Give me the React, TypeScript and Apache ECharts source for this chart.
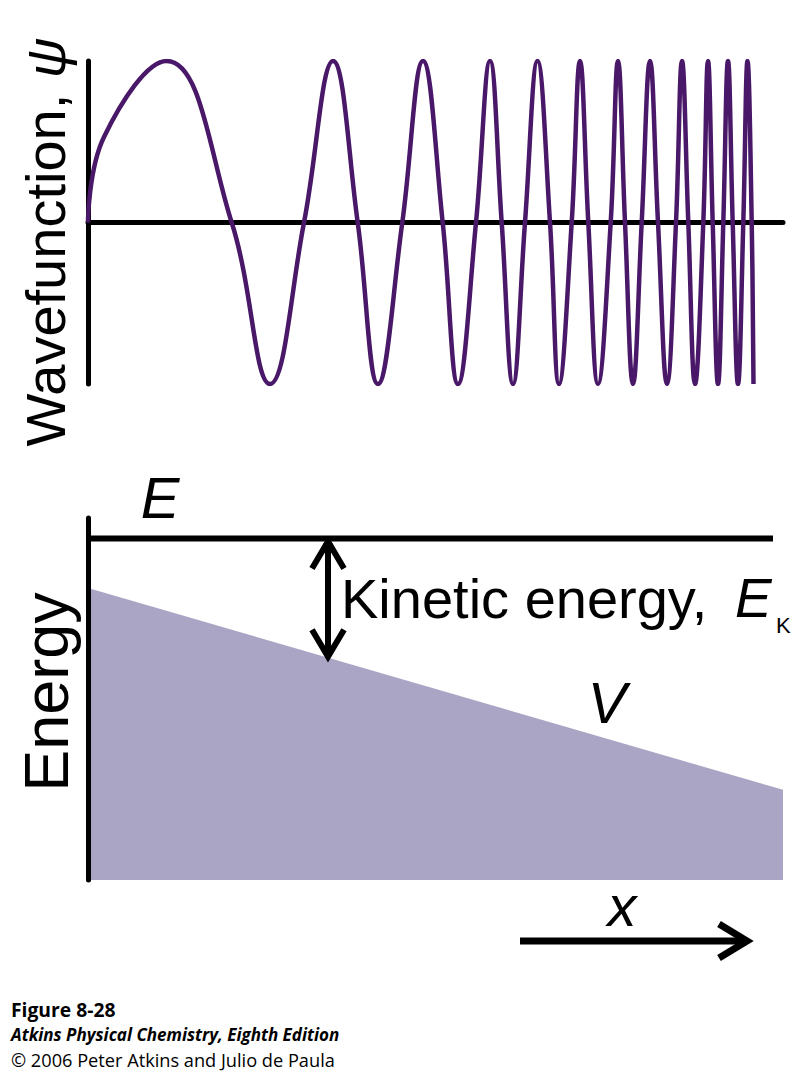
import React, { useEffect, useRef } from 'react';
import * as echarts from 'echarts';

// Wavefunction ψ(x): zero crossings and extrema (x in px from the axis)
const waveX = [
  0, 16, 78.7, 143.7, 182, 216, 245, 269.7, 290, 314.3, 335, 354.7, 370,
  388, 402, 413.7, 425, 437, 449.5, 462, 471, 483.7, 492, 500.3, 510, 522.7,
  530, 537, 545, 553.7, 562, 570, 579, 588, 594, 600.3, 607, 615.3, 620, 624.7,
  630, 635.3, 640, 644.7, 650, 655.3, 659.5, 663.7, 665.5,
];
const waveY = [
  0, 0.53, 1, 0, -1, 0, 1, 0, -1, 0, 1, 0, -1,
  0, 1, 0, -1, 0, 1, 0, -1, 0, 1, 0, -1, 0,
  1, 0, -1, 0, 1, 0, -1, 0, 1, 0, -1, 0, 1, 0,
  -1, 0, 1, 0, -1, 0, 1, 0, -1,
];

// Energy panel
const energyE = 100;
const eLineX = [0, 685];
const potentialX = [0, 695];
const potentialV = [85.5, 26.4];
const arrowX = 240;

const FONT = "'Liberation Sans', Arial, Helvetica, sans-serif";
const FOOT = "'Open Sans', 'Noto Sans', sans-serif";

export default function App() {
  const ref = useRef<HTMLDivElement>(null);

  useEffect(() => {
    document.body.style.margin = '0';
    document.body.style.overflow = 'hidden';
    const chart = echarts.init(ref.current!, null, { renderer: 'svg' });

    const wave = waveX.map((x, i) => [x, waveY[i]]);
    const eLine = eLineX.map((x) => [x, energyE]);
    const pot = potentialX.map((x, i) => [x, potentialV[i]]);

    chart.setOption({
      animation: false,
      grid: [
        { left: 88, top: 61, width: 695, height: 323 },
        { left: 88, top: 518, width: 695, height: 362 },
      ],
      xAxis: [
        {
          type: 'value', gridIndex: 0, min: 0, max: 695,
          axisLine: { show: true, onZero: true, lineStyle: { color: '#000', width: 5 } },
          axisTick: { show: false }, axisLabel: { show: false }, splitLine: { show: false },
        },
        { type: 'value', gridIndex: 1, min: 0, max: 695, show: false },
      ],
      yAxis: [
        {
          type: 'value', gridIndex: 0, min: -1, max: 1,
          axisLine: { show: true, onZero: false, lineStyle: { color: '#000', width: 5 } },
          axisTick: { show: false }, axisLabel: { show: false }, splitLine: { show: false },
        },
        {
          type: 'value', gridIndex: 1, min: 0, max: 106, z: 5,
          axisLine: { show: true, onZero: false, lineStyle: { color: '#000', width: 5 } },
          axisTick: { show: false }, axisLabel: { show: false }, splitLine: { show: false },
        },
      ],
      series: [
        {
          type: 'line', xAxisIndex: 0, yAxisIndex: 0, data: wave, smooth: 0.42,
          symbol: 'none', lineStyle: { color: '#4a1868', width: 4.5 }, z: 3,
        },
        {
          type: 'line', xAxisIndex: 1, yAxisIndex: 1, data: pot,
          symbol: 'none', lineStyle: { width: 0 },
          areaStyle: { color: '#aaa5c4', opacity: 1 }, z: 1,
        },
        {
          type: 'line', xAxisIndex: 1, yAxisIndex: 1, data: eLine,
          symbol: 'none', lineStyle: { color: '#000', width: 6, cap: 'butt' }, z: 4,
        },
      ],
    });

    const vAt = potentialV[0] + (potentialV[1] - potentialV[0]) * (arrowX - potentialX[0]) / (potentialX[1] - potentialX[0]);
    const pTop = chart.convertToPixel({ gridIndex: 1 }, [arrowX, energyE]) as number[];
    const pBot = chart.convertToPixel({ gridIndex: 1 }, [arrowX, vAt]) as number[];
    const ax = pTop[0];
    const y1 = pTop[1] + 3;
    const y2 = pBot[1] - 1;
    const blk = { stroke: '#000', lineWidth: 6, fill: null, lineJoin: 'miter' };

    chart.setOption({
      graphic: [
        // double arrow (kinetic energy)
        { type: 'line', shape: { x1: ax, y1: y1 + 3, x2: ax, y2: y2 - 3 }, style: blk, z: 10 },
        { type: 'polyline', shape: { points: [[ax - 16, y1 + 27], [ax, y1], [ax + 16, y1 + 27]] }, style: blk, z: 10 },
        { type: 'polyline', shape: { points: [[ax - 16, y2 - 27], [ax, y2], [ax + 16, y2 - 27]] }, style: blk, z: 10 },
        // x arrow
        { type: 'line', shape: { x1: 520, y1: 941, x2: 744, y2: 941 }, style: { ...blk, lineWidth: 7 }, z: 10 },
        { type: 'polyline', shape: { points: [[719, 924], [747, 941], [719, 958]] }, style: { ...blk, lineWidth: 7 }, z: 10 },
        // labels
        {
          type: 'text', x: 45, y: 242, rotation: Math.PI / 2, z: 10,
          style: {
            text: '{a|Wavefunction, }{b|ψ}',
            rich: {
              a: { fontSize: 56, fontFamily: FONT, fill: '#000' },
              b: { fontSize: 56, fontFamily: FONT, fontStyle: 'italic', fill: '#000' },
            },
            align: 'center', verticalAlign: 'middle',
          },
        },
        {
          type: 'text', x: 46, y: 692, rotation: Math.PI / 2, z: 10,
          style: { text: 'Energy', fontSize: 63, fontFamily: FONT, fill: '#000', align: 'center', verticalAlign: 'middle' },
        },
        {
          type: 'text', x: 160, y: 497, z: 10,
          style: { text: 'E', fontSize: 58, fontStyle: 'italic', fontFamily: FONT, fill: '#000', align: 'center', verticalAlign: 'middle' },
        },
        {
          type: 'text', x: 341, y: 598, z: 10,
          style: { text: 'Kinetic energy,', fontSize: 56, fontFamily: FONT, fill: '#000', align: 'left', verticalAlign: 'middle' },
        },
        {
          type: 'text', x: 735, y: 598, z: 10,
          style: { text: 'E', fontSize: 55, fontStyle: 'italic', fontFamily: FONT, fill: '#000', align: 'left', verticalAlign: 'middle' },
        },
        {
          type: 'text', x: 776, y: 625, z: 10,
          style: { text: 'K', fontSize: 22, fontFamily: FONT, fill: '#000', align: 'left', verticalAlign: 'middle' },
        },
        {
          type: 'text', x: 607, y: 702, z: 10,
          style: { text: 'V', fontSize: 58, fontStyle: 'italic', fontFamily: FONT, fill: '#000', align: 'center', verticalAlign: 'middle' },
        },
        {
          type: 'text', x: 622, y: 905, z: 10,
          style: { text: 'x', fontSize: 58, fontStyle: 'italic', fontFamily: FONT, fill: '#000', align: 'center', verticalAlign: 'middle' },
        },
        // footer
        {
          type: 'text', x: 11, y: 1009.5, z: 10,
          style: { text: 'Figure 8-28', fontSize: 19.3, lineHeight: 19, fontWeight: 'bold', fontFamily: FOOT, fill: '#000', align: 'left', verticalAlign: 'middle' },
        },
        {
          type: 'text', x: 11, y: 1034, z: 10,
          style: { text: 'Atkins Physical Chemistry, Eighth Edition', fontSize: 17, lineHeight: 17, fontWeight: 'bold', fontStyle: 'italic', fontFamily: FOOT, fill: '#000', align: 'left', verticalAlign: 'middle' },
        },
        {
          type: 'text', x: 11, y: 1059.5, z: 10,
          style: { text: '© 2006 Peter Atkins and Julio de Paula', fontSize: 18.2, lineHeight: 18, fontFamily: FOOT, fill: '#000', align: 'left', verticalAlign: 'middle' },
        },
      ],
    });

    return () => chart.dispose();
  }, []);

  return (
    <div
      ref={ref}
      style={{ position: 'absolute', left: 0, top: 0, width: 809, height: 1072, background: '#fff' }}
    />
  );
}
